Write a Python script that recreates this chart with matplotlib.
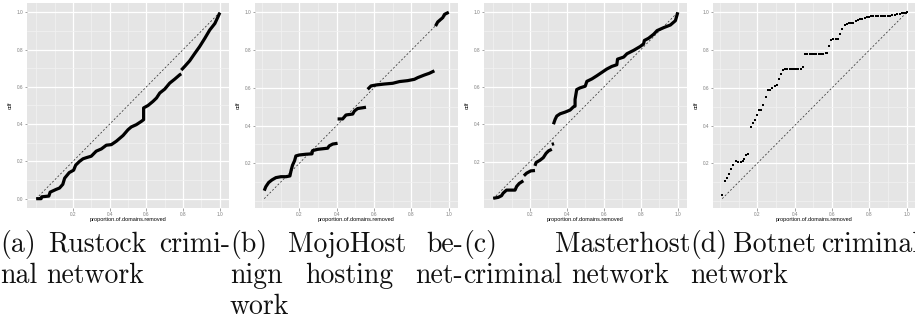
import numpy as np
import matplotlib.pyplot as plt
from matplotlib.ticker import FixedLocator, MultipleLocator

# cdf of domains removed, one list of (x, y) segments per network
rustock = [
    [(0.0, 0.0), (0.027, 0.0), (0.03, 0.01), (0.069, 0.014), (0.076, 0.035),
     (0.109, 0.05), (0.127, 0.057), (0.145, 0.077), (0.155, 0.11), (0.18, 0.14),
     (0.204, 0.153), (0.215, 0.18), (0.236, 0.2), (0.255, 0.214), (0.273, 0.22),
     (0.3, 0.228), (0.327, 0.255), (0.355, 0.267), (0.382, 0.287), (0.409, 0.29),
     (0.436, 0.308), (0.473, 0.339), (0.5, 0.37), (0.518, 0.385), (0.545, 0.397),
     (0.573, 0.415), (0.585, 0.424), (0.585, 0.487), (0.609, 0.5), (0.636, 0.522),
     (0.655, 0.54), (0.673, 0.567), (0.7, 0.588), (0.727, 0.62), (0.755, 0.642),
     (0.782, 0.665), (0.79, 0.67)],
    [(0.79, 0.69), (0.809, 0.71), (0.836, 0.74), (0.864, 0.78), (0.89, 0.816),
     (0.918, 0.86), (0.945, 0.905), (0.973, 0.94), (0.99, 0.976), (1.0, 0.998)],
]

mojohost = [
    [(0.0125, 0.055), (0.021, 0.076), (0.036, 0.098), (0.054, 0.112), (0.075, 0.124),
     (0.102, 0.129), (0.129, 0.129), (0.15, 0.133), (0.157, 0.165), (0.164, 0.19),
     (0.175, 0.214), (0.182, 0.239), (0.2, 0.244), (0.236, 0.248), (0.268, 0.25),
     (0.271, 0.267), (0.298, 0.274), (0.352, 0.28), (0.36, 0.292), (0.379, 0.302),
     (0.405, 0.306)],
    [(0.405, 0.435), (0.432, 0.435), (0.45, 0.456), (0.486, 0.461), (0.495, 0.477),
     (0.512, 0.49), (0.557, 0.497)],
    [(0.566, 0.592), (0.584, 0.61), (0.611, 0.615), (0.655, 0.62), (0.7, 0.624),
     (0.736, 0.633), (0.78, 0.638), (0.816, 0.645), (0.834, 0.654), (0.87, 0.668),
     (0.896, 0.677), (0.923, 0.69)],
    [(0.929, 0.927), (0.941, 0.949), (0.968, 0.972), (0.977, 0.989), (0.995, 0.998),
     (1.0, 1.0)],
]

masterhost = [
    [(0.001, 0.003), (0.028, 0.008), (0.046, 0.017), (0.055, 0.031), (0.073, 0.047),
     (0.119, 0.047), (0.128, 0.067), (0.142, 0.083), (0.164, 0.097)],
    [(0.167, 0.124), (0.182, 0.138), (0.204, 0.15), (0.227, 0.152)],
    [(0.227, 0.177), (0.233, 0.195), (0.254, 0.207), (0.272, 0.221), (0.287, 0.244),
     (0.3, 0.257), (0.318, 0.266)],
    [(0.318, 0.292), (0.33, 0.296)],
    [(0.327, 0.4), (0.336, 0.426), (0.345, 0.444), (0.363, 0.456), (0.39, 0.465),
     (0.417, 0.476), (0.435, 0.493), (0.444, 0.497), (0.444, 0.533), (0.453, 0.586),
     (0.471, 0.595), (0.499, 0.604), (0.508, 0.63), (0.535, 0.643), (0.562, 0.66),
     (0.589, 0.678), (0.616, 0.696), (0.643, 0.71), (0.67, 0.719), (0.674, 0.749),
     (0.707, 0.76), (0.725, 0.778), (0.761, 0.796), (0.797, 0.817), (0.815, 0.831),
     (0.819, 0.849), (0.842, 0.861), (0.87, 0.883), (0.888, 0.902), (0.924, 0.918),
     (0.96, 0.932), (0.987, 0.955), (0.993, 0.975), (1.0, 1.0)],
]

# the botnet has few domains, so its points are drawn one by one
botnet_x = [0.0125, 0.025, 0.036, 0.048, 0.061, 0.071, 0.084, 0.098, 0.111, 0.123,
            0.129, 0.141, 0.152, 0.164, 0.177, 0.188, 0.2, 0.209, 0.218, 0.232,
            0.245, 0.257, 0.268, 0.28, 0.293, 0.304, 0.316, 0.325, 0.338, 0.348,
            0.361, 0.373, 0.384, 0.396, 0.409, 0.42, 0.432, 0.445, 0.455, 0.468,
            0.48, 0.491, 0.504, 0.516, 0.529, 0.541, 0.554, 0.566, 0.575, 0.584,
            0.596, 0.607, 0.62, 0.632, 0.643, 0.655, 0.668, 0.679, 0.691, 0.704,
            0.714, 0.727, 0.739, 0.75, 0.763, 0.775, 0.786, 0.798, 0.807, 0.821,
            0.834, 0.846, 0.861, 0.873, 0.886, 0.898, 0.911, 0.923, 0.936, 0.95,
            0.964, 0.977, 0.986, 0.995, 1.0]
botnet_y = [0.033, 0.107, 0.121, 0.145, 0.172, 0.191, 0.214, 0.207, 0.207, 0.212,
            0.225, 0.246, 0.247, 0.392, 0.411, 0.432, 0.455, 0.481, 0.481, 0.509,
            0.552, 0.587, 0.59, 0.597, 0.608, 0.617, 0.647, 0.675, 0.692, 0.698,
            0.699, 0.699, 0.699, 0.699, 0.699, 0.699, 0.699, 0.708, 0.778, 0.778,
            0.778, 0.778, 0.778, 0.778, 0.778, 0.778, 0.778, 0.784, 0.784, 0.819,
            0.851, 0.859, 0.859, 0.859, 0.886, 0.91, 0.935, 0.938, 0.945, 0.945,
            0.945, 0.954, 0.96, 0.963, 0.963, 0.968, 0.974, 0.977, 0.981, 0.981,
            0.981, 0.981, 0.981, 0.981, 0.981, 0.981, 0.981, 0.984, 0.988, 0.991,
            0.993, 0.995, 0.998, 0.998, 1.0]

ticks_full = [0.0, 0.2, 0.4, 0.6, 0.8, 1.0]
ticks_part = [0.2, 0.4, 0.6, 0.8, 1.0]

# caption lines per sub-figure: (words, justified?)
caption_a = [(['(a)', 'Rustock', 'crimi-'], True), (['nal', 'network'], False)]
caption_b = [(['(b)', 'MojoHost', 'be-'], True), (['nign', 'hosting', 'net-'], True),
             (['work'], False)]
caption_c = [(['(c)', 'Masterhost'], True), (['criminal', 'network'], False)]
caption_d = [(['(d)', 'Botnet', 'criminal'], True), (['network'], False)]

W, H = 915, 329
fig = plt.figure(figsize=(W / 100, H / 100), dpi=100)


def panel(left, right, top=3, bottom=208):
    ax = fig.add_axes([left / W, 1 - bottom / H, (right - left) / W, (bottom - top) / H])
    ax.set_facecolor('#E5E5E5')
    for s in ax.spines.values():
        s.set_visible(False)
    ax.set_axisbelow(True)
    return ax


def style(ax, yticks):
    ax.xaxis.set_major_locator(FixedLocator(ticks_part))
    ax.yaxis.set_major_locator(FixedLocator(yticks))
    ax.xaxis.set_minor_locator(MultipleLocator(0.1))
    ax.yaxis.set_minor_locator(MultipleLocator(0.1))
    ax.xaxis.set_major_formatter(lambda v, p: f'{v:.1f}')
    ax.yaxis.set_major_formatter(lambda v, p: f'{v:.1f}')
    ax.grid(which='minor', color='#F2F2F2', linewidth=0.5)
    ax.grid(which='major', color='white', linewidth=0.9)
    ax.tick_params(which='major', labelsize=3.4, length=1.8, width=0.5, pad=1,
                   color='#7F7F7F', labelcolor='#7F7F7F')
    ax.tick_params(which='minor', length=0)
    for lab in ax.get_xticklabels() + ax.get_yticklabels():
        lab.set_family('Liberation Sans')
    ax.set_xlabel('proportion.of.domains.removed', fontsize=4, family='Liberation Sans')
    ax.set_ylabel('cdf', fontsize=4, family='Liberation Sans')
    ax.xaxis.label.set_va('center')
    ax.yaxis.label.set_va('center')
    ax.xaxis.set_label_coords(0.5, -0.054)
    ax.yaxis.set_label_coords(-0.084, 0.5)


def diagonal(ax, x0):
    ax.plot([x0, 1.0], [x0, 1.0], color='#333333', linewidth=0.55,
            linestyle=(0, (2.5, 2.5)), zorder=2)


def curve(ax, segments):
    for seg in segments:
        xs = [p[0] for p in seg]
        ys = [p[1] for p in seg]
        ax.plot(xs, ys, color='black', linewidth=2.3, solid_capstyle='butt', zorder=3)


ax_a = panel(27, 229)
curve(ax_a, rustock)
diagonal(ax_a, rustock[0][0][0])
style(ax_a, ticks_full)

ax_b = panel(255, 458)
curve(ax_b, mojohost)
diagonal(ax_b, mojohost[0][0][0])
style(ax_b, ticks_part)

ax_c = panel(484, 687)
curve(ax_c, masterhost)
diagonal(ax_c, masterhost[0][0][0])
style(ax_c, ticks_part)

ax_d = panel(713, 916)
ax_d.scatter(botnet_x, botnet_y, s=3.5, marker='s', color='black', linewidths=0, zorder=3)
diagonal(ax_d, botnet_x[0])
style(ax_d, ticks_part)

# captions set like justified LaTeX sub-captions
renderer = fig.canvas.get_renderer()
CAP_SIZE = 20
SPACE = 0.333 * CAP_SIZE * 100 / 72
BASELINES = [252, 283, 314]


def caption(lines, x0, x1):
    for (words, justified), yb in zip(lines, BASELINES):
        texts = [fig.text(0, 1 - yb / H, w, ha='left', va='baseline', fontsize=CAP_SIZE,
                          family='cmr10', color='#111111') for w in words]
        widths = [t.get_window_extent(renderer).width for t in texts]
        if justified and len(words) > 1:
            gap = (x1 - x0 - sum(widths)) / (len(words) - 1)
        else:
            gap = SPACE
        x = x0
        for t, w in zip(texts, widths):
            t.set_x(x / W)
            x += w + gap


caption(caption_a, 0, 230)
caption(caption_b, 230, 463)
caption(caption_c, 463, 690)
caption(caption_d, 690, 920)

fig.savefig('out.png', dpi=100)
